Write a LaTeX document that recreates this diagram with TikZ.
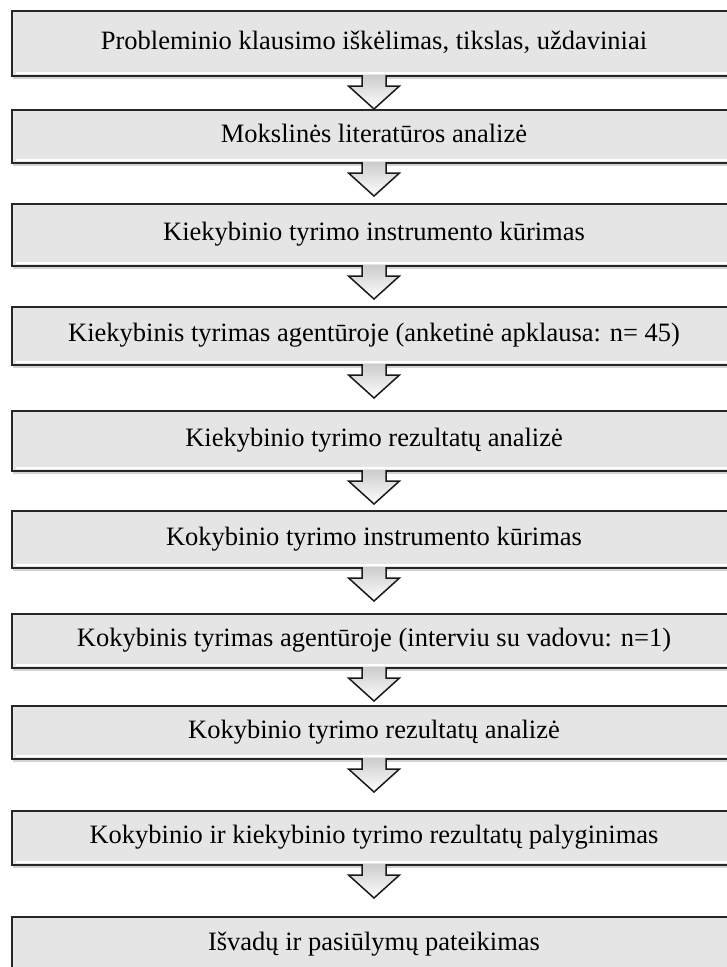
\documentclass[tikz,border=0pt]{standalone}
\usepackage{fontspec}
\setmainfont{Liberation Serif}
\usetikzlibrary{calc, shadows}

\begin{document}
\begin{tikzpicture}[x=1pt, y=-1pt,
    stage/.style={draw=black!85, line width=2pt, fill=black!10, minimum width=724pt, inner sep=0pt,
      text height=18.5pt, text depth=6.6pt, font=\fontsize{26.5}{30}\selectfont,
      drop shadow={shadow xshift=1pt, shadow yshift=-2.5pt, opacity=0.35},
      path picture={\draw[white, line width=1.5pt] ($(path picture bounding box.south west)+(4pt,3pt)$)
        -- ($(path picture bounding box.south east)+(-4pt,3pt)$);}},
    flowarrow/.style={draw=black!90, line width=1.5pt, top color=black!20, bottom color=white}]
  \useasboundingbox (0,0) rectangle (727,967);
  \node[stage, minimum height=65pt] (problema) at (374,43.5) {Probleminio klausimo iškėlimas, tikslas, uždaviniai};
  \node[stage, minimum height=53pt] (literatura) at (374,136.5) {Mokslinės literatūros analizė};
  \node[stage, minimum height=62pt] (kiekinstr) at (374,235) {Kiekybinio tyrimo instrumento kūrimas};
  \node[stage, minimum height=58pt] (kiektyr) at (374,336) {Kiekybinis tyrimas agentūroje (anketinė apklausa: n= 45)};
  \node[stage, minimum height=60pt] (kiekrez) at (374,441) {Kiekybinio tyrimo rezultatų analizė};
  \node[stage, minimum height=57pt] (kokinstr) at (374,539.5) {Kokybinio tyrimo instrumento kūrimas};
  \node[stage, minimum height=54pt] (koktyr) at (374,641) {Kokybinis tyrimas agentūroje (interviu su vadovu: n=1)};
  \node[stage, minimum height=53pt] (kokrez) at (374,732.5) {Kokybinio tyrimo rezultatų analizė};
  \node[stage, minimum height=54pt] (palyginimas) at (374,838) {Kokybinio ir kiekybinio tyrimo rezultatų palyginimas};
  \node[stage, minimum height=56pt] (isvados) at (374,945) {Išvadų ir pasiūlymų pateikimas};
  % block arrows under each stage
  \foreach \s in {problema, literatura, kiekinstr, kiektyr, kiekrez, kokinstr, koktyr, kokrez, palyginimas}
    \draw[flowarrow] ($(\s.south)+(-12,-2)$) -- ++(0,11) -- ++(-13.5,0) -- ++(25.5,23)
      -- ++(25.5,-23) -- ++(-13.5,0) -- ++(0,-11);
\end{tikzpicture}
\end{document}
